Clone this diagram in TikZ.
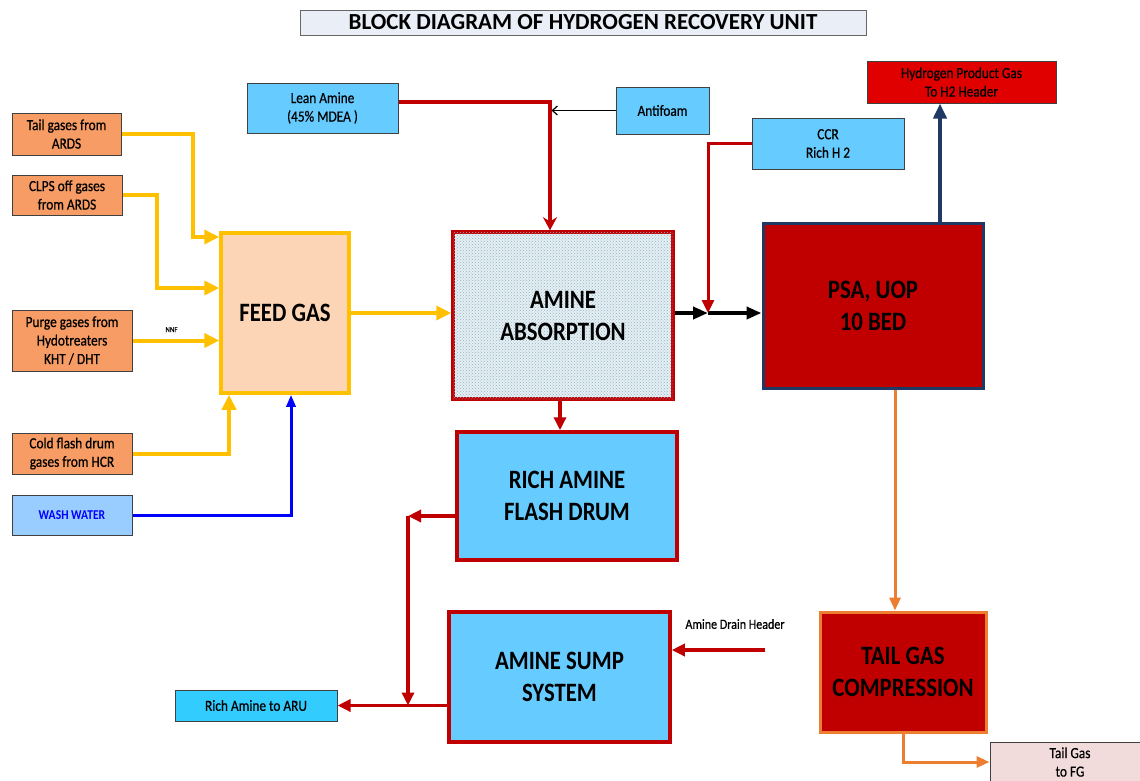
\documentclass[tikz,border=0pt]{standalone}
\usepackage{fontspec}
\setmainfont{Carlito}
\newfontfamily\narrowfont[FakeStretch=0.86]{Carlito}
\newfontfamily\labelfont[FakeStretch=0.86,FakeBold=0.6]{Carlito}
\usetikzlibrary{arrows.meta,patterns}

\definecolor{feedyellow}{HTML}{FFC000}
\definecolor{peach}{HTML}{FBD5B5}
\definecolor{gasorange}{HTML}{F79C64}
\definecolor{skyblue}{HTML}{66CCFF}
\definecolor{aminered}{HTML}{C00000}
\definecolor{psanavy}{HTML}{1F3864}
\definecolor{tailorange}{HTML}{ED7D31}
\definecolor{washblue}{HTML}{99CCFF}
\definecolor{hydrored}{HTML}{E00000}
\definecolor{arublue}{HTML}{33CCFF}
\definecolor{fgpink}{HTML}{F2DCDB}
\definecolor{titlefill}{HTML}{E9EEF7}
\definecolor{dotblue}{HTML}{8FB5C4}
\definecolor{absorbfill}{HTML}{E6EFF3}

\begin{document}
\begin{tikzpicture}[x=1pt,y=-1pt]
    \tikzstyle{inbox}=[draw=black!75, line width=1pt, align=center, inner sep=1pt,
        font=\labelfont\fontsize{15.5}{18.5}\selectfont]
    \tikzstyle{gas box}=[inbox, fill=gasorange]
    \tikzstyle{blue box}=[inbox, fill=skyblue]
    \tikzstyle{unit}=[line width=3.5pt, align=center,
        font=\narrowfont\bfseries\fontsize{26.5}{32}\selectfont]
    \tikzstyle{feed line}=[draw=feedyellow, line width=4pt, -{Triangle[length=15pt,width=14pt]}]
    \tikzstyle{amine line}=[draw=aminered, line width=3.5pt, -{Triangle[length=13pt,width=12pt]}]
    \tikzstyle{wash line}=[draw=blue, line width=3pt, -{Triangle[length=12pt,width=9pt]}]
    \tikzstyle{gas line}=[draw=black, line width=4pt, -{Triangle[length=15pt,width=12pt]}]
    \tikzstyle{product line}=[draw=psanavy, line width=4pt, -{Triangle[length=15pt,width=13pt]}]
    \tikzstyle{tail line}=[draw=tailorange, line width=3pt, -{Triangle[length=13pt,width=11pt]}]

    \useasboundingbox (0,0) rectangle (1140,780);
    \clip (0,0) rectangle (1140,780);

    % Title
    \node[draw=black!60, fill=titlefill, line width=1pt, minimum width=566pt, minimum height=25pt,
        font=\bfseries\fontsize{23}{25}\selectfont] (title) at (583,22.5)
        {BLOCK DIAGRAM OF HYDROGEN RECOVERY UNIT};

    % Feed gas sources
    \node[gas box, minimum width=109pt, minimum height=42pt] (tail) at (66.5,134) {Tail  gases from\\ARDS};
    \node[gas box, minimum width=110pt, minimum height=40pt] (clps) at (67,195) {CLPS off gases\\from ARDS};
    \node[gas box, minimum width=120pt, minimum height=61pt] (purge) at (72,340.5) {Purge  gases from\\Hydotreaters\\KHT / DHT};
    \node[gas box, minimum width=120pt, minimum height=41pt] (cold) at (72,453.5) {Cold flash drum\\gases from HCR};
    \node[inbox, fill=washblue, minimum width=120pt, minimum height=40pt, text=blue,
        font=\narrowfont\bfseries\fontsize{13.5}{15}\selectfont] (wash) at (72,515) {WASH WATER};

    % Main units
    \node[unit, draw=feedyellow, fill=peach, minimum width=128pt, minimum height=160pt] (feed) at (285,313) {FEED GAS};
    \node[unit, draw=aminered, fill=absorbfill, minimum width=220pt, minimum height=167pt,
        postaction={pattern=crosshatch dots, pattern color=dotblue}] (absorb) at (563,315.5) {};
    \node[unit] at (absorb) {AMINE\\ABSORPTION};
    \node[unit, draw=psanavy, line width=3pt, fill=aminered, minimum width=220pt, minimum height=165pt] (psa) at (873,305.5) {PSA, UOP\\10 BED};
    \node[unit, draw=aminered, fill=skyblue, minimum width=220pt, minimum height=128pt] (flash) at (567,496) {RICH AMINE\\FLASH DRUM};
    \node[unit, draw=aminered, fill=skyblue, minimum width=221pt, minimum height=130pt] (sump) at (559.5,677) {AMINE SUMP\\SYSTEM};
    \node[unit, draw=tailorange, line width=3pt, fill=aminered, minimum width=166pt, minimum height=120pt] (tgc) at (903,672) {TAIL GAS\\COMPRESSION};

    % Other streams
    \node[blue box, minimum width=151pt, minimum height=50pt] (lean) at (322.5,108) {Lean Amine\\(45\% MDEA )};
    \node[blue box, minimum width=93pt, minimum height=47pt] (antifoam) at (662.5,110.5) {Antifoam};
    \node[blue box, minimum width=152pt, minimum height=51pt] (ccr) at (828,143.5) {CCR\\Rich H 2};
    \node[inbox, fill=hydrored, minimum width=189pt, minimum height=42pt] (h2) at (961.5,82) {Hydrogen Product Gas\\To  H2 Header};
    \node[inbox, fill=arublue, minimum width=162pt, minimum height=31pt] (aru) at (256,705.5) {Rich Amine to ARU};
    \node[inbox, fill=fgpink, minimum width=160pt, minimum height=40pt] (fg) at (1070,762) {Tail Gas\\to FG};

    % Feed gas lines
    \coordinate (t1) at (193,237);
    \coordinate (c1) at (157,288);
    \draw[feed line] (tail.east) -| (t1) -- (t1 -| feed.west);
    \draw[feed line] (clps.east) -| (c1) -- (c1 -| feed.west);
    \draw[feed line] (purge.east) -- (purge.east -| feed.west)
        node[pos=0.45, above=3pt, text=black, font=\labelfont\fontsize{8}{9}\selectfont] {NNF};
    \draw[feed line] (cold.east) -| ([xshift=-56pt]feed.south);
    \draw[wash line] (wash.east) -| ([xshift=6pt]feed.south);
    \draw[feed line] (feed.east) -- (feed.east -| absorb.west);

    % Amine circuit
    \draw[amine line, -{Stealth[length=13pt,width=14pt]}] ([yshift=6pt]lean.east) -| ([xshift=-13pt]absorb.north);
    \draw[black, line width=1.2pt, -{Straight Barb[length=5pt,width=9pt]}] (antifoam.west) -- ++(-64,0);
    \draw[amine line] ([xshift=-3pt]absorb.south) -- ([xshift=-7pt]flash.north);
    \coordinate (fl) at (408,516);
    \draw[amine line] (flash.west |- fl) -- (fl);
    \draw[amine line] (fl) -- (fl |- aru.east);
    \draw[amine line] (sump.west |- aru.east) -- (aru.east);
    \coordinate (dr) at (765,650);
    \draw[amine line] (dr) -- (dr -| sump.east);
    \node[font=\labelfont\fontsize{14}{16}\selectfont] (drain) at (735,624) {Amine Drain Header};

    % Gas to PSA and products
    \coordinate (jn) at (708,313);
    \draw[gas line] (absorb.east |- jn) -- (jn);
    \draw[gas line] (jn) -- (jn -| psa.west);
    \draw[amine line, line width=3pt] (ccr.west) -| (jn);
    \draw[product line] ([xshift=67pt]psa.north) -- ([xshift=-21.5pt]h2.south);
    \draw[tail line] ([xshift=22pt]psa.south) -- ([xshift=-8pt]tgc.north);
    \draw[tail line] (tgc.south) |- (fg.west);
\end{tikzpicture}
\end{document}
